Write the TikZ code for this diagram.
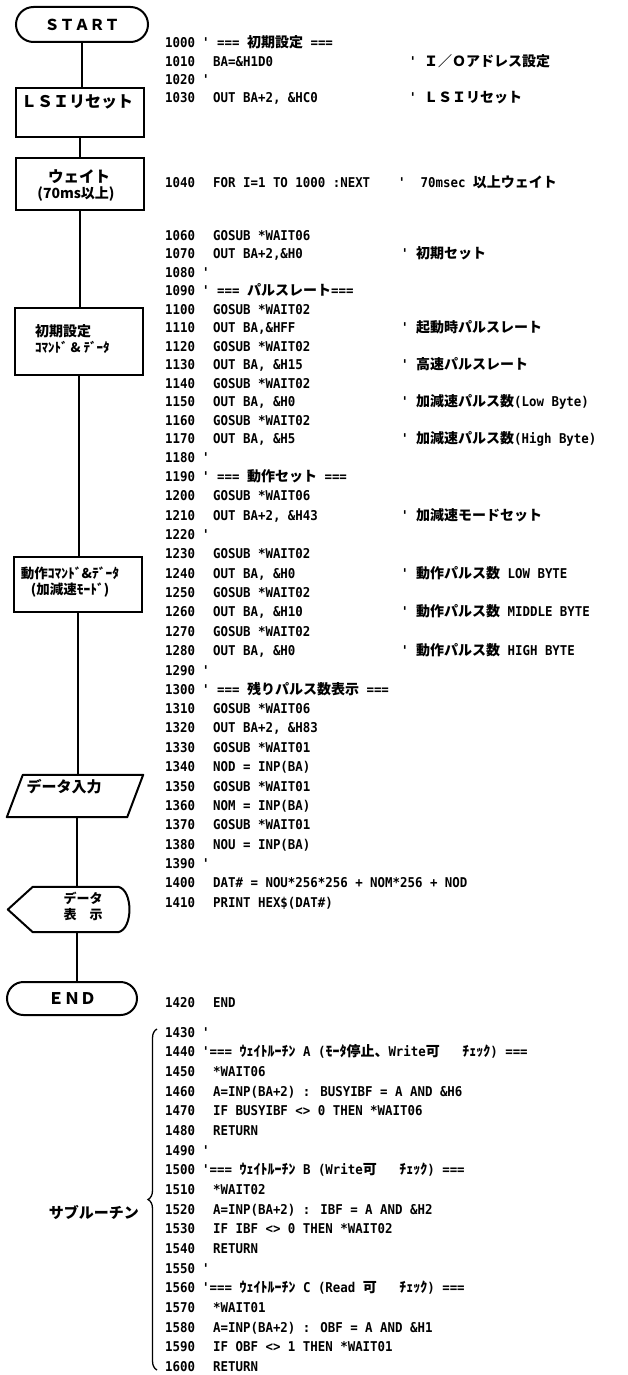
\documentclass[tikz,border=0pt]{standalone}
\usepackage{fontspec}
\usetikzlibrary{shapes.misc,decorations.pathreplacing,calc}
\newfontfamily\codefont[FakeStretch=0.92]{DejaVu Sans Mono}
\newfontfamily\jpfont{Noto Sans CJK JP}
\newcommand\J[1]{{\jpfont\bfseries\fontsize{14}{14}\selectfont #1}}
\newcommand\codeln[4][213]{\node[numtxt] (n#3) at (165,#2+5) {#3};\node[codetxt] (c#3) at (#1,#2+5) {#4};}
\newcommand\cmt[4][401]{\node[codetxt] (k#3) at (#1,#2+5) {#4};}
\tikzset{
  codetxt/.style={anchor=base west, inner sep=0pt, font=\codefont\bfseries\fontsize{13.5}{13.5}\selectfont},
  numtxt/.style={codetxt},
  lbl/.style={inner sep=0pt, font=\jpfont\bfseries\fontsize{15}{15}\selectfont},
  box/.style={draw, line width=2pt, minimum width=128pt, inner sep=0pt},
  term/.style={draw, rounded rectangle, line width=2pt, minimum width=132pt, minimum height=35pt, inner sep=0pt, font=\jpfont\bfseries\fontsize{15}{15}\selectfont},
  shapeline/.style={draw, line width=2pt, line join=round},
  flow/.style={line width=2pt}
}
\begin{document}
\begin{tikzpicture}[x=1pt,y=-1pt]
\fill[white] (0,0) rectangle (627,1375);
\useasboundingbox (0,0) rectangle (627,1375);

% ---------- flowchart ----------
\node[term] (start) at (82,24.5) {ＳＴＡＲＴ};
\node[box, minimum height=49pt] (lsi) at (80,112.5) {};
\node[lbl, font=\jpfont\bfseries\fontsize{16}{16}\selectfont] (lsit) at (77,102) {ＬＳＩリセット};
\node[box, minimum height=52pt] (wait) at (80,184) {};
\node[lbl, font=\jpfont\bfseries\fontsize{15.5}{15.5}\selectfont] (waitt1) at (79,177) {ウェイト};
\node[lbl, font=\jpfont\bfseries\fontsize{14}{14}\selectfont] (waitt2) at (76,194) {(70ms以上)};
\node[box, minimum height=67pt] (init) at (79,341.5) {};
\node[lbl, anchor=west, font=\jpfont\bfseries\fontsize{14}{14}\selectfont] (initt1) at (35,331) {初期設定};
\node[lbl, anchor=west, font=\jpfont\bfseries\fontsize{13}{13}\selectfont] (initt2) at (35,347) {ｺﾏﾝﾄﾞ \& ﾃﾞｰﾀ};
\node[box, minimum height=55pt] (act) at (78,584.5) {};
\node[lbl, font=\jpfont\bfseries\fontsize{13.5}{13.5}\selectfont] (actt1) at (70,573) {動作ｺﾏﾝﾄﾞ\&ﾃﾞｰﾀ};
\node[lbl, font=\jpfont\bfseries\fontsize{13.5}{13.5}\selectfont] (actt2) at (70,590) {(加減速ﾓｰﾄﾞ)};
\node[inner sep=0pt, minimum width=120pt, minimum height=42pt] (inp) at (75,796) {};
\draw[shapeline] ($(inp.north west)+(8,0)$) -- ($(inp.north east)+(8,0)$) -- ($(inp.south east)+(-8,0)$) -- ($(inp.south west)+(-8,0)$) -- cycle;
\node[lbl] (inpt) at (64,787) {データ入力};
\node[inner sep=0pt, minimum width=100pt, minimum height=45pt] (disp) at (77,909.5) {};
\draw[shapeline] ($(disp.west)+(-19,0)$) -- ($(disp.north west)+(6,0)$) -- ($(disp.north east)+(-9,0)$) .. controls ($(disp.north east)+(6,3)$) and ($(disp.south east)+(6,-3)$) .. ($(disp.south east)+(-9,0)$) -- ($(disp.south west)+(6,0)$) -- cycle;
\node[lbl, font=\jpfont\bfseries\fontsize{13}{13}\selectfont] (dispt1) at (83,898) {データ};
\node[lbl, font=\jpfont\bfseries\fontsize{13}{13}\selectfont] (dispt2) at (83,915) {表　示};
\node[term, minimum width=130pt, minimum height=33pt, font=\jpfont\bfseries\fontsize{16}{16}\selectfont] (end) at (72,998.5) {ＥＮＤ};

\draw[flow] (start.south) -- (start.south |- lsi.north);
\draw[flow] (lsi.south) -- (lsi.south |- wait.north);
\draw[flow] (wait.south) -- (wait.south |- init.north);
\draw[flow] (init.south) -- (init.south |- act.north);
\draw[flow] (act.south) -- (act.south |- inp.north);
\draw[flow] (disp.north |- inp.south) -- (disp.north);
\draw[flow] (disp.south) -- (disp.south |- end.north);

% ---------- subroutine brace ----------
\coordinate (brt) at (157,1029);
\coordinate (brb) at (157,1370);
\draw[decorate, decoration={brace, amplitude=9pt}, line width=1.3pt] (brb) -- (brt);
\node[lbl, anchor=east] (sub) at (139,1212) {サブルーチン};

% ---------- listing ----------
\codeln[202]{43}{1000}{' === \J{初期設定} ===}
\codeln{62}{1010}{BA=\&H1D0}
\cmt[409]{62}{1010}{' \J{Ｉ／Ｏアドレス設定}}
\codeln[202]{80}{1020}{'}
\codeln{98}{1030}{OUT BA+2, \&HC0}
\cmt[409]{98}{1030}{' \J{ＬＳＩリセット}}
\codeln{182}{1040}{FOR I=1 TO 1000 :NEXT}
\cmt[398]{182}{1040}{'\ \ 70msec \J{以上ウェイト}}
\codeln{235}{1060}{GOSUB *WAIT06}
\codeln{253.5}{1070}{OUT BA+2,\&H0}
\cmt{253.5}{1070}{' \J{初期セット}}
\codeln[202]{272}{1080}{'}
\codeln[202]{290.5}{1090}{' === \J{パルスレート}===}
\codeln{309}{1100}{GOSUB *WAIT02}
\codeln{327.5}{1110}{OUT BA,\&HFF}
\cmt{327.5}{1110}{' \J{起動時パルスレート}}
\codeln{346}{1120}{GOSUB *WAIT02}
\codeln{364.5}{1130}{OUT BA, \&H15}
\cmt{364.5}{1130}{' \J{高速パルスレート}}
\codeln{383}{1140}{GOSUB *WAIT02}
\codeln{401.5}{1150}{OUT BA, \&H0}
\cmt{401.5}{1150}{' \J{加減速パルス数}(Low Byte)}
\codeln{420}{1160}{GOSUB *WAIT02}
\codeln{438.5}{1170}{OUT BA, \&H5}
\cmt{438.5}{1170}{' \J{加減速パルス数}(High Byte)}
\codeln[202]{457}{1180}{'}
\codeln[202]{476.3}{1190}{' === \J{動作セット} ===}
\codeln{495.7}{1200}{GOSUB *WAIT06}
\codeln{515}{1210}{OUT BA+2, \&H43}
\cmt{515}{1210}{' \J{加減速モードセット}}
\codeln[202]{534.4}{1220}{'}
\codeln{553.8}{1230}{GOSUB *WAIT02}
\codeln{573}{1240}{OUT BA, \&H0}
\cmt{573}{1240}{' \J{動作パルス数} LOW BYTE}
\codeln{592.5}{1250}{GOSUB *WAIT02}
\codeln{611.8}{1260}{OUT BA, \&H10}
\cmt{611.8}{1260}{' \J{動作パルス数} MIDDLE BYTE}
\codeln{631}{1270}{GOSUB *WAIT02}
\codeln{650.5}{1280}{OUT BA, \&H0}
\cmt{650.5}{1280}{' \J{動作パルス数} HIGH BYTE}
\codeln[202]{670}{1290}{'}
\codeln[202]{689.2}{1300}{' === \J{残りパルス数表示} ===}
\codeln{708.5}{1310}{GOSUB *WAIT06}
\codeln{727.9}{1320}{OUT BA+2, \&H83}
\codeln{747}{1330}{GOSUB *WAIT01}
\codeln{766.6}{1340}{NOD = INP(BA)}
\codeln{786}{1350}{GOSUB *WAIT01}
\codeln{805.3}{1360}{NOM = INP(BA)}
\codeln{824.7}{1370}{GOSUB *WAIT01}
\codeln{844}{1380}{NOU = INP(BA)}
\codeln[202]{863.4}{1390}{'}
\codeln{882.7}{1400}{DAT\# = NOU*256*256 + NOM*256 + NOD}
\codeln{902}{1410}{PRINT HEX\$(DAT\#)}
\codeln{1002}{1420}{END}
\codeln[202]{1032}{1430}{'}
\codeln[202]{1051.6}{1440}{'=== \J{ｳｪｲﾄﾙｰﾁﾝ} A (\J{ﾓｰﾀ停止、}Write\J{可}\ \ \ \J{ﾁｪｯｸ}) ===}
\codeln{1071.3}{1450}{*WAIT06}
\codeln{1091}{1460}{A=INP(BA+2) : BUSYIBF = A AND \&H6}
\codeln{1110.6}{1470}{IF BUSYIBF <> 0 THEN *WAIT06}
\codeln{1130.3}{1480}{RETURN}
\codeln[202]{1150}{1490}{'}
\codeln[202]{1169.6}{1500}{'=== \J{ｳｪｲﾄﾙｰﾁﾝ} B (Write\J{可}\ \ \ \J{ﾁｪｯｸ}) ===}
\codeln{1189.2}{1510}{*WAIT02}
\codeln{1209}{1520}{A=INP(BA+2) : IBF = A AND \&H2}
\codeln{1228.5}{1530}{IF IBF <> 0 THEN *WAIT02}
\codeln{1248.2}{1540}{RETURN}
\codeln[202]{1268}{1550}{'}
\codeln[202]{1287.5}{1560}{'=== \J{ｳｪｲﾄﾙｰﾁﾝ} C (Read \J{可}\ \ \ \J{ﾁｪｯｸ}) ===}
\codeln{1307}{1570}{*WAIT01}
\codeln{1327}{1580}{A=INP(BA+2) : OBF = A AND \&H1}
\codeln{1346.4}{1590}{IF OBF <> 1 THEN *WAIT01}
\codeln{1366}{1600}{RETURN}
\end{tikzpicture}
\end{document}
